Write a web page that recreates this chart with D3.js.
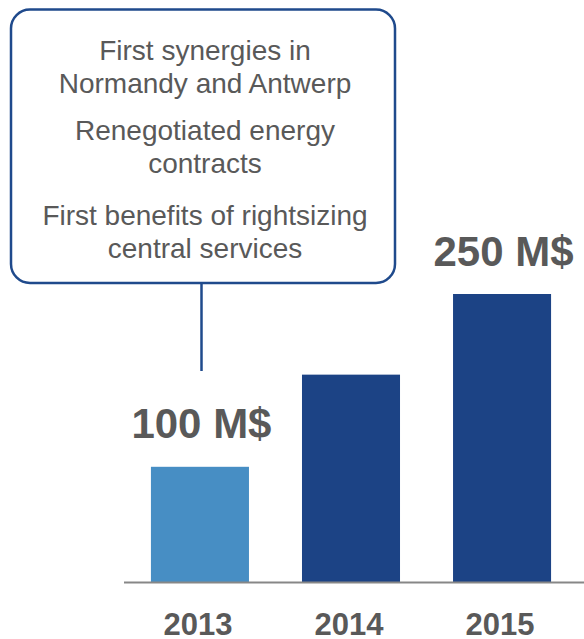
<!DOCTYPE html>
<html>
<head>
<meta charset="utf-8">
<script src="https://cdn.jsdelivr.net/npm/d3@7"></script>
<style>
  html, body { margin: 0; padding: 0; background: #ffffff; }
  svg { display: block; }
</style>
</head>
<body>
<svg id="chart" width="584" height="639"></svg>
<script>
// Cost-savings data by year
const years = ["2013", "2014", "2015"];
const savings = [100, 180, 250];
const valueLabels = ["100 M$", "", "250 M$"];
const barColors = ["#478ec4", "#1c4385", "#1c4385"];

// Callout text, grouped by bullet
const calloutGroups = [
  ["First synergies in", "Normandy and Antwerp"],
  ["Renegotiated energy", "contracts"],
  ["First benefits of rightsizing", "central services"]
];

const FONT = "'Liberation Sans', Arial, Helvetica, sans-serif";
const svg = d3.select("#chart");

const x = d3.scaleBand()
  .domain(years)
  .range([124.5, 577.5])
  .paddingInner(0.351)
  .paddingOuter(0.175);

const y = d3.scaleLinear()
  .domain([0, 250])
  .range([582, 294]);

const data = years.map((yr, i) => ({ year: yr, value: savings[i], label: valueLabels[i], color: barColors[i] }));

// Bars
svg.append("g").selectAll("rect")
  .data(data)
  .join("rect")
  .attr("x", d => x(d.year))
  .attr("y", d => y(d.value))
  .attr("width", x.bandwidth())
  .attr("height", d => y(0) - y(d.value))
  .attr("fill", d => d.color);

// Baseline
svg.append("line")
  .attr("x1", 124).attr("x2", 584)
  .attr("y1", y(0) + 0.5).attr("y2", y(0) + 0.5)
  .attr("stroke", "#878787")
  .attr("stroke-width", 2);

// Year labels
svg.append("g").selectAll("text")
  .data(data)
  .join("text")
  .attr("x", d => x(d.year) + x.bandwidth() / 2 - 2)
  .attr("y", 634.5)
  .attr("text-anchor", "middle")
  .attr("font-family", FONT)
  .attr("font-weight", "bold")
  .attr("font-size", 31)
  .attr("fill", "#595959")
  .text(d => d.year);

// Value labels above selected bars
svg.append("g").selectAll("text")
  .data(data.filter(d => d.label))
  .join("text")
  .attr("x", d => x(d.year) + x.bandwidth() / 2 + 1.5)
  .attr("y", d => y(d.value) - 28.5)
  .attr("text-anchor", "middle")
  .attr("font-family", FONT)
  .attr("font-weight", "bold")
  .attr("font-size", 42)
  .attr("fill", "#595959")
  .text(d => d.label);

// Callout box with connector to the first bar
const callout = svg.append("g");
callout.append("line")
  .attr("x1", 201.5).attr("x2", 201.5)
  .attr("y1", 283).attr("y2", 371)
  .attr("stroke", "#1f4a8c")
  .attr("stroke-width", 2.5);

callout.append("rect")
  .attr("x", 11).attr("y", 9.5)
  .attr("width", 384).attr("height", 273.5)
  .attr("rx", 19).attr("ry", 19)
  .attr("fill", "#ffffff")
  .attr("stroke", "#1f4a8c")
  .attr("stroke-width", 2.5);

const baselines = [[59.5, 92.5], [140, 173], [225, 258]];
calloutGroups.forEach((lines, gi) => {
  lines.forEach((t, li) => {
    callout.append("text")
      .attr("x", 205)
      .attr("y", baselines[gi][li])
      .attr("text-anchor", "middle")
      .attr("font-family", FONT)
      .attr("font-size", 28)
      .attr("fill", "#595959")
      .text(t);
  });
});
</script>
</body>
</html>
